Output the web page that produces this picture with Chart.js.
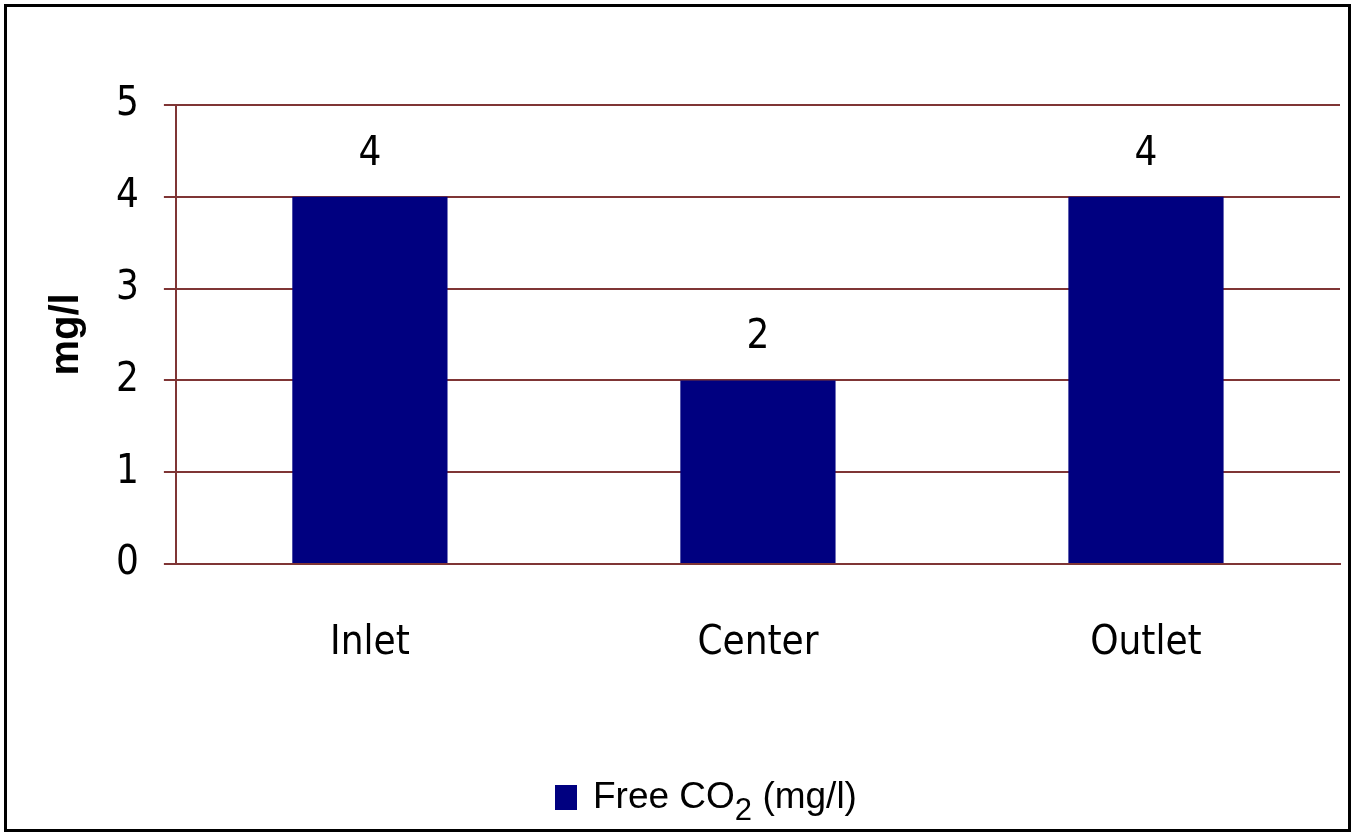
<!DOCTYPE html>
<html>
<head>
<meta charset="utf-8">
<script src="https://cdn.jsdelivr.net/npm/chart.js@4.4.1/dist/chart.umd.min.js"></script>
<style>
  html, body { margin: 0; padding: 0; background: #fff; overflow: hidden; }
  #wrap { position: relative; width: 1354px; height: 832px; }
  #frame {
    position: absolute; left: 4px; top: 4px; width: 1341px; height: 822px;
    border: 3px solid #000; pointer-events: none;
  }
  #legend {
    position: absolute; left: 555px; top: 775px; white-space: nowrap;
    font-family: "Liberation Sans", Arial, sans-serif; font-size: 37px; color: #000;
  }
  #legend .swatch {
    display: inline-block; width: 22px; height: 25px; margin-right: 16px; vertical-align: -2px;
  }
  #legend sub { font-size: 31px; vertical-align: -12px; line-height: 0; }
</style>
</head>
<body>
<div id="wrap">
  <canvas id="chart" width="1354" height="832"></canvas>
  <div id="legend"></div>
  <div id="frame"></div>
</div>
<script>
document.addEventListener("DOMContentLoaded", function () {
  // Chart data
  const categories = ["Inlet", "Center", "Outlet"];
  const freeCO2 = [4, 2, 4];
  const yTicks = [0, 1, 2, 3, 4, 5];

  const barColor = "#000080";
  const gridColor = "#7f3535";
  const labelFont = "'Liberation Sans Narrow', 'DejaVu Sans Condensed', sans-serif";

  // Draws the value above each bar
  const valueLabels = {
    id: "valueLabels",
    afterDatasetsDraw(chart) {
      const ctx = chart.ctx;
      ctx.save();
      ctx.font = "40px " + labelFont;
      ctx.fillStyle = "#000";
      ctx.textAlign = "center";
      ctx.textBaseline = "alphabetic";
      chart.getDatasetMeta(0).data.forEach(function (bar, i) {
        ctx.fillText(String(freeCO2[i]), bar.x, bar.y - 32);
      });
      ctx.restore();
    }
  };

  const chart = new Chart(document.getElementById("chart"), {
    type: "bar",
    data: {
      labels: categories,
      datasets: [{
        label: "Free CO2 (mg/l)",
        data: freeCO2,
        backgroundColor: barColor,
        borderWidth: 0,
        barPercentage: 0.4,
        categoryPercentage: 1
      }]
    },
    options: {
      responsive: false,
      animation: false,
      layout: { padding: { left: 43, right: 14, top: 105, bottom: 108 } },
      plugins: {
        legend: { display: false },
        tooltip: { enabled: false }
      },
      scales: {
        x: {
          grid: { display: false, drawTicks: false },
          border: { display: true, color: gridColor, width: 2 },
          ticks: {
            padding: 56,
            color: "#000",
            font: { family: labelFont, size: 40 }
          }
        },
        y: {
          min: 0,
          max: 5,
          afterBuildTicks: function (axis) {
            axis.ticks = yTicks.map(function (v) { return { value: v }; });
          },
          grid: { color: gridColor, lineWidth: 2, tickLength: 12, drawTicks: true },
          border: { display: true, color: gridColor, width: 2 },
          ticks: {
            padding: 25,
            color: "#000",
            font: { family: labelFont, size: 40 }
          },
          title: {
            display: true,
            text: "mg/l",
            color: "#000",
            padding: { top: 0, bottom: 0 },
            font: { family: "'Liberation Sans', Arial, sans-serif", size: 40, weight: "bold" }
          }
        }
      }
    },
    plugins: [valueLabels]
  });

  // HTML legend so the subscript can be kept
  const ds = chart.data.datasets[0];
  document.getElementById("legend").innerHTML =
    '<span class="swatch" style="background:' + ds.backgroundColor + '"></span>' +
    'Free CO<sub>2</sub> (mg/l)';
});
</script>
</body>
</html>
